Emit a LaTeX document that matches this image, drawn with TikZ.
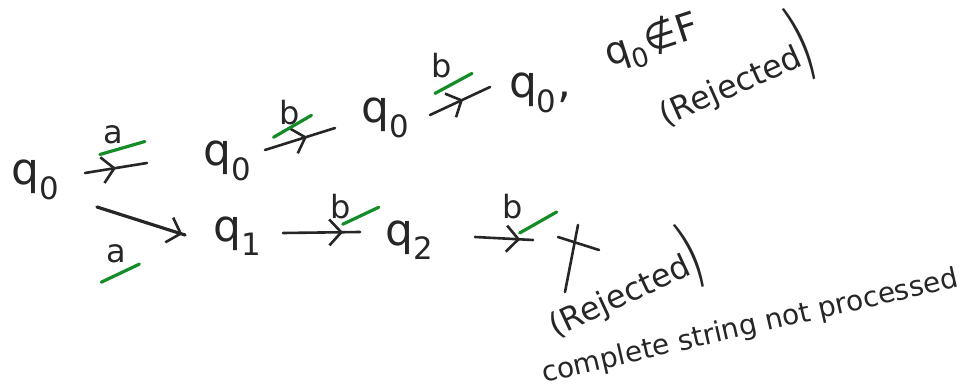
\documentclass[tikz,border=0pt]{standalone}
\usepackage{fontspec}
\setmainfont{DejaVu Sans}
\usetikzlibrary{arrows.meta,calc,decorations.markings}
\newcommand{\bigparen}[1]{\raisebox{-0.35ex}{\scalebox{1}[#1]{)}}}
\begin{document}
\begin{tikzpicture}[x=1pt,y=-1pt,
  ink/.style={draw=black!85, line width=2.6pt, line cap=round},
  st/.style={inner sep=0pt, font=\fontsize{44}{48}\selectfont, text=black!85},
  lab/.style={inner sep=0pt, font=\fontsize{32}{36}\selectfont, text=black!85},
  uline/.style={draw={rgb,255:red,20;green,140;blue,40}, line width=3.2pt, line cap=round},
  note/.style={inner sep=0pt, font=\fontsize{30}{34}\selectfont, text=black!85},
  chev/.style={ink, postaction={decorate}, decoration={markings,
     mark=at position #1 with {\arrow[line width=2.6pt]{Straight Barb[length=12pt,width=26pt]}}}}]
\useasboundingbox (0,0) rectangle (968,390);
% states
\node[st] (s0) at (36,180) {q\textsubscript{0}};
\node[st] (u1) at (228,161) {q\textsubscript{0}};
\node[st] (u2) at (386,118) {q\textsubscript{0}};
\node[st] (u3) at (540,93) {q\textsubscript{0},};
\node[note, rotate=18, font=\fontsize{38}{42}\selectfont] (nf) at (652,42) {q\textsubscript{0}∉F};
\node[note, rotate=24, font=\fontsize{32}{36}\selectfont] (rej1) at (732,74) {(Rejected\bigparen{2.7}};
\node[st] (l1) at (238,236) {q\textsubscript{1}};
\node[st] (l2) at (410,240) {q\textsubscript{2}};
\coordinate (dead) at (580,250);
\node[note, rotate=25, font=\fontsize{32}{36}\selectfont] (rej2) at (622,287) {(Rejected\bigparen{2.4}};
\node[note, rotate=13, font=\fontsize{28}{32}\selectfont] (msg) at (750,327) {complete string not processed};
% upper path
\draw[chev=0.5] ($(s0)+(49,-7)$) -- ($(u1)+(-81,2)$) node[lab, pos=0.45, yshift=34pt] (a1) {a};
\draw[uline] ($(a1)+(-13,20)$) -- ($(a1)+(32,7)$);
\draw[chev=0.6] ($(u1)+(37,-11)$) -- ($(u2)+(-51,10)$) node[lab, pos=0.35, yshift=30pt] (b1) {b};
\draw[uline] ($(b1)+(-16,25)$) -- ($(b1)+(22,3)$);
\draw[chev=0.55] ($(u2)+(44,-3)$) -- ($(u3)+(-50,-6)$) node[lab, pos=0.2, yshift=44pt] (b2) {b};
\draw[uline] ($(b2)+(-7,28)$) -- ($(b2)+(30,8)$);
% lower path
\draw[chev=0.97, line width=3.2pt] ($(s0)+(61,27)$) -- ($(l1)+(-53,-1)$) node[lab, pos=0.22, yshift=-41pt] (a2) {a};
\draw[uline] ($(a2)+(-15,28)$) -- ($(a2)+(23,10)$);
\draw[chev=0.78] ($(l1)+(45,-3)$) -- ($(l2)+(-50,-8)$) node[lab, pos=0.75, yshift=26pt] (b3) {b};
\draw[uline] ($(b3)+(2,18)$) -- ($(b3)+(38,1)$);
\draw[chev=0.78] ($(l2)+(65,-3)$) -- ($(dead)+(-47,-10)$) node[lab, pos=0.65, yshift=32pt] (b4) {b};
\draw[uline] ($(b4)+(7,26)$) -- ($(b4)+(44,5)$);
% dead-state cross
\draw[ink] ($(dead)+(-22,-13)$) -- ($(dead)+(19,0)$);
\draw[ink] ($(dead)+(-2,-25)$) -- ($(dead)+(-15,42)$);
\end{tikzpicture}
\end{document}
